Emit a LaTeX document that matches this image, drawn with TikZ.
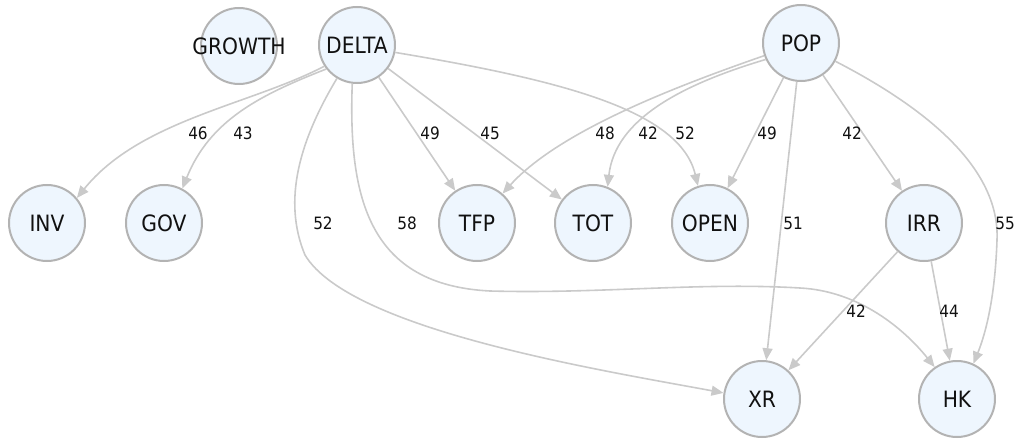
\documentclass[tikz,border=0pt]{standalone}
\usepackage{fontspec}
\setmainfont[FakeStretch=0.9]{DejaVu Sans}
\usetikzlibrary{arrows.meta}

\definecolor{nodefill}{HTML}{EEF6FE}
\definecolor{nodeline}{HTML}{B3B3B3}
\definecolor{edgeline}{HTML}{CACACA}
\definecolor{ink}{HTML}{111111}

\tikzset{
  vnode/.style={circle, draw=nodeline, fill=nodefill, line width=2pt,
    minimum size=76pt, inner sep=0pt, text=ink,
    font=\fontsize{22.5}{22.5}\selectfont},
  edge/.style={draw=edgeline, line width=1.6pt,
    -{Triangle[length=12pt,width=10pt]}},
  wlabel/.style={font=\fontsize{17}{17}\selectfont, text=ink, inner sep=0pt}
}

\newcommand{\vname}[1]{\makebox[0pt]{#1}}

\begin{document}
\begin{tikzpicture}[x=1pt,y=-1pt]
  \useasboundingbox (0,0) rectangle (1018,441);

  % variables
  \node[vnode] (GROWTH) at (239,46)  {\vname{GROWTH}};
  \node[vnode] (DELTA)  at (357,45)  {\vname{DELTA}};
  \node[vnode] (POP)    at (801,43)  {\vname{POP}};
  \node[vnode] (INV)    at (47,223)  {\vname{INV}};
  \node[vnode] (GOV)    at (164,223) {\vname{GOV}};
  \node[vnode] (TFP)    at (477,223) {\vname{TFP}};
  \node[vnode] (TOT)    at (593,223) {\vname{TOT}};
  \node[vnode] (OPEN)   at (710,223) {\vname{OPEN}};
  \node[vnode] (IRR)    at (924,223) {\vname{IRR}};
  \node[vnode] (XR)     at (762,399) {\vname{XR}};
  \node[vnode] (HK)     at (957,399) {\vname{HK}};

  % links from DELTA
  \draw[edge] (DELTA.213) .. controls (250,105) and (140,120) .. (INV.40);
  \draw[edge] (DELTA.218) .. controls (260,95) and (210,120) .. (GOV.62);
  \draw[edge] (DELTA) -- (TFP);
  \draw[edge] (DELTA) -- (TOT);
  \draw[edge] (DELTA.349) .. controls (560,80) and (680,110) .. (OPEN.108);
  \draw[edge] (DELTA.239) .. controls (300,140) and (282,200) .. (305,255)
              .. controls (350,330) and (600,370) .. (XR.171);
  \draw[edge] (DELTA.263) .. controls (348,200) and (370,285) .. (490,291)
              .. controls (600,294) and (700,282) .. (800,288)
              .. controls (860,291) and (905,330) .. (HK.125);

  % links from POP
  \draw[edge] (POP.199) .. controls (680,85) and (560,130) .. (TFP.49);
  \draw[edge] (POP.205) .. controls (680,85) and (615,120) .. (TOT.68);
  \draw[edge] (POP) -- (OPEN);
  \draw[edge] (POP) -- (XR);
  \draw[edge] (POP) -- (IRR);
  \draw[edge] (POP.332) .. controls (930,110) and (1000,170) .. (997,240)
              .. controls (995,300) and (985,335) .. (HK.65);

  % links from IRR
  \draw[edge] (IRR) -- (XR);
  \draw[edge] (IRR) -- (HK);

  % link weights
  \node[wlabel] (w1)  at (198,133)  {46};
  \node[wlabel] (w2)  at (243,133)  {43};
  \node[wlabel] (w3)  at (430,133)  {49};
  \node[wlabel] (w4)  at (490,133)  {45};
  \node[wlabel] (w5)  at (605,133)  {48};
  \node[wlabel] (w6)  at (648,133)  {42};
  \node[wlabel] (w7)  at (685,133)  {52};
  \node[wlabel] (w8)  at (767,133)  {49};
  \node[wlabel] (w9)  at (852,133)  {42};
  \node[wlabel] (w10) at (323,223)  {52};
  \node[wlabel] (w11) at (407,223)  {58};
  \node[wlabel] (w12) at (793,223)  {51};
  \node[wlabel] (w13) at (1005,223) {55};
  \node[wlabel] (w14) at (856,311)  {42};
  \node[wlabel] (w15) at (949,311)  {44};
\end{tikzpicture}
\end{document}
